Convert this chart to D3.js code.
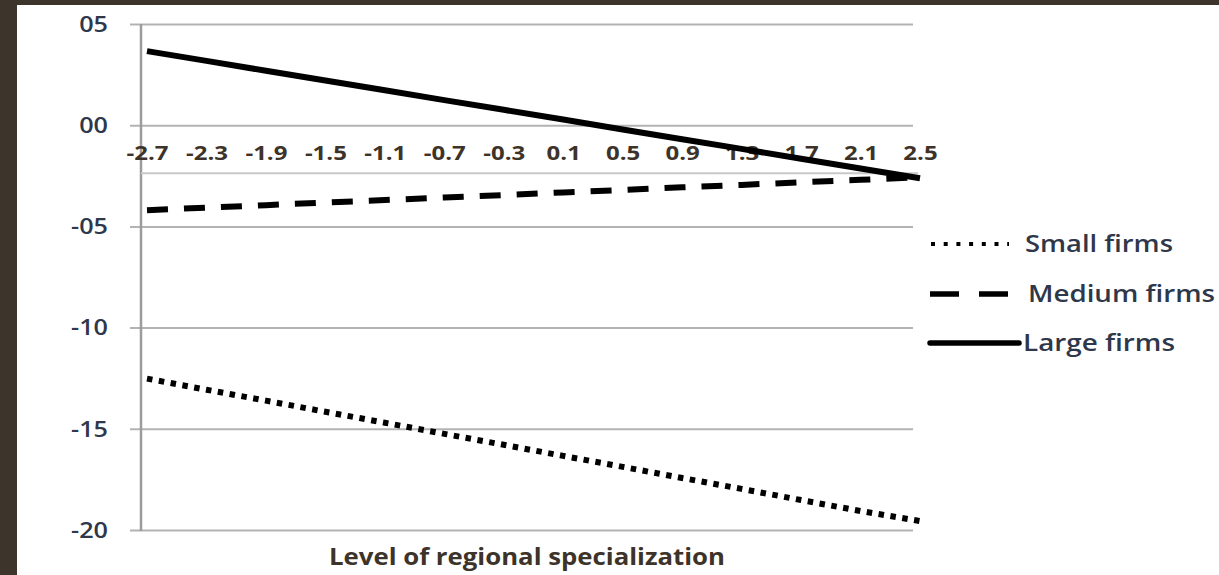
<!DOCTYPE html>
<html><head><meta charset="utf-8">
<script src="https://cdn.jsdelivr.net/npm/d3@7"></script>
<style>html,body{margin:0;padding:0;background:#3d342b;}svg{display:block;}</style>
</head><body>
<svg id="c" width="1219" height="575"></svg>
<script>
const categories = ["-2.7","-2.3","-1.9","-1.5","-1.1","-0.7","-0.3","0.1","0.5","0.9","1.3","1.7","2.1","2.5"];
const largeFirms  = [3.66, 3.18, 2.69, 2.21, 1.73, 1.24, 0.76, 0.28, -0.21, -0.69, -1.17, -1.66, -2.14, -2.62];
const mediumFirms = [-4.20, -4.07, -3.95, -3.82, -3.70, -3.57, -3.45, -3.32, -3.20, -3.07, -2.95, -2.82, -2.70, -2.57];
const smallFirms  = [-12.52, -13.07, -13.61, -14.16, -14.70, -15.25, -15.79, -16.34, -16.88, -17.43, -17.97, -18.52, -19.06, -19.56];
const yTicks = [5, 0, -5, -10, -15, -20];
const yTickLabels = ["05", "00", "-05", "-10", "-15", "-20"];
const seriesNames = ["Small firms", "Medium firms", "Large firms"];
const axisTitle = "Level of regional specialization";

const svg = d3.select("#c");
svg.append("rect").attr("x",17).attr("y",5).attr("width",1202).attr("height",570).attr("fill","#fff");

const x = d3.scalePoint().domain(categories).range([147, 920]);
const y = d3.scaleLinear().domain([-20, 5]).range([530, 24]);
const plotLeft = 141, plotRight = 913;
const sx = 1.2;

// gridlines + ticks
const yAxis = d3.axisLeft(y).tickValues(yTicks).tickSize(-(plotRight - 130)).tickFormat((d,i)=>yTickLabels[i]);
const gy = svg.append("g").attr("transform",`translate(130,0)`).call(yAxis);
gy.select(".domain").remove();
gy.selectAll(".tick line").attr("stroke","#b3b3b3").attr("stroke-width",2).attr("x2", plotRight-130);
gy.selectAll(".tick text").attr("fill","#2f374a").attr("font-family","Open Sans").attr("font-weight",600).attr("font-size",21)
  .attr("text-anchor","end").attr("x",-22/sx).attr("dy","0.35em").attr("transform",`scale(${sx},1)`);

// vertical axis line
svg.append("line").attr("x1",plotLeft).attr("x2",plotLeft).attr("y1",y(5)).attr("y2",y(-20)+1)
  .attr("stroke","#9c9c9c").attr("stroke-width",2.5);

// category axis (crosses at value)
const crossVal = -2.38;
const xAxis = d3.axisTop(x).tickSize(0).tickPadding(13);
const gx = svg.append("g").attr("transform",`translate(0,${y(crossVal)})`).call(xAxis);
gx.select(".domain").attr("d",`M${plotLeft},0H918`).attr("stroke","#c8c8c8").attr("stroke-width",2);
gx.selectAll(".tick text").attr("fill","#3d3329").attr("font-family","Open Sans").attr("font-weight","bold").attr("font-size",20)
  .attr("transform",`scale(${sx},1)`);

// series
const line = d3.line().x((d,i)=>x(categories[i])).y(d=>y(d));
const series = [
  {name: seriesNames[0], values: smallFirms, dash: "5.5,6.5", w: 6},
  {name: seriesNames[1], values: mediumFirms, dash: "21,16", w: 6},
  {name: seriesNames[2], values: largeFirms, dash: null, w: 6}
];
series.forEach(s => {
  svg.append("path").datum(s.values).attr("d", line).attr("fill","none").attr("stroke","#000")
    .attr("stroke-width", s.w).attr("stroke-dasharray", s.dash);
});

// legend
const legY = [244, 294, 343];
const leg = svg.append("g");
leg.append("line").attr("x1",931).attr("x2",1009).attr("y1",legY[0]).attr("y2",legY[0]).attr("stroke","#000")
  .attr("stroke-width",4).attr("stroke-dasharray","4,8.7");
leg.append("line").attr("x1",930).attr("x2",1008).attr("y1",legY[1]).attr("y2",legY[1]).attr("stroke","#000")
  .attr("stroke-width",5.5).attr("stroke-dasharray","29,20");
leg.append("line").attr("x1",930).attr("x2",1019).attr("y1",legY[2]).attr("y2",legY[2]).attr("stroke","#000")
  .attr("stroke-width",5.5).attr("stroke-linecap","round");
const legX = [1025, 1028, 1023];
const legW = [148, 187, 152];
seriesNames.forEach((n,i) => {
  leg.append("text").attr("x",legX[i]).attr("y",legY[i]).attr("dy","0.35em").attr("fill","#2f374a")
    .attr("font-family","Open Sans").attr("font-weight",600).attr("font-size",23).attr("textLength",legW[i]).attr("lengthAdjust","spacingAndGlyphs").text(n);
});

// axis title (centered under plot)
svg.append("text").attr("x",(plotLeft+plotRight)/2).attr("y",557).attr("dy","0.35em").attr("fill","#3d3329")
  .attr("text-anchor","middle")
  .attr("font-family","Open Sans").attr("font-weight","bold").attr("font-size",24)
  .attr("textLength",396).attr("lengthAdjust","spacingAndGlyphs").text(axisTitle);
</script>
</body></html>
